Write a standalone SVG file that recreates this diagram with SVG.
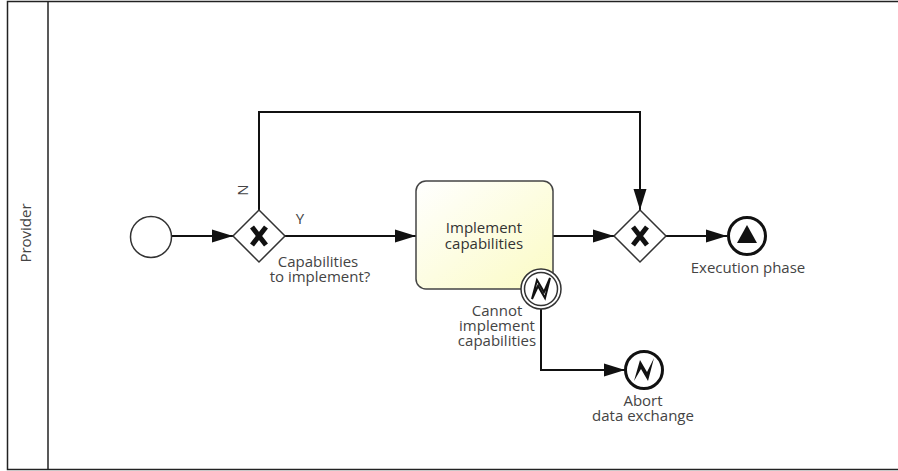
<svg xmlns="http://www.w3.org/2000/svg" width="898" height="471" viewBox="0 0 898 471">
  <style>
    .lbl { font-family: "Open Sans", "Noto Sans", sans-serif; font-size: 15px; fill: #444; text-anchor: middle; }
    .tlbl { font-family: "Open Sans", "Noto Sans", sans-serif; font-size: 15px; fill: #333; text-anchor: middle; }
    .flow { fill: none; stroke: #111; stroke-width: 2; }
    .gw { fill: #fff; stroke: #333; stroke-width: 1.5; }
    .pool { fill: #fff; stroke: #222; stroke-width: 1.5; }
  </style>
  <defs>
    <linearGradient id="taskFill" x1="0" y1="0" x2="1" y2="1">
      <stop offset="0" stop-color="#ffffff"/>
      <stop offset="1" stop-color="#fbfbc4"/>
    </linearGradient>
    <marker id="arrow" markerUnits="userSpaceOnUse" markerWidth="22" markerHeight="14" refX="21" refY="7" orient="auto">
      <path d="M0,0.5 L21,7 L0,13.5 z" fill="#111"/>
    </marker>
    <path id="gwX" d="M-7,-9 L7,9 M7,-9 L-7,9" stroke="#111" stroke-width="5" fill="none"/>
  </defs>

  <!-- pool with lane header -->
  <g id="pool">
    <rect class="pool" x="7.5" y="1.5" width="900" height="468"/>
    <line x1="48" y1="1.5" x2="48" y2="469.5" stroke="#222" stroke-width="1.5"/>
    <text class="lbl" transform="translate(31,233) rotate(-90)">Provider</text>
  </g>

  <!-- sequence flows -->
  <g id="connectors">
    <line class="flow" x1="172" y1="236" x2="233" y2="236" marker-end="url(#arrow)"/>
    <line class="flow" x1="285" y1="236" x2="416" y2="236" marker-end="url(#arrow)"/>
    <line class="flow" x1="553" y1="236" x2="614" y2="236" marker-end="url(#arrow)"/>
    <line class="flow" x1="666" y1="236" x2="727" y2="236" marker-end="url(#arrow)"/>
    <polyline class="flow" points="259,210 259,112 640,112 640,210" marker-end="url(#arrow)"/>
    <polyline class="flow" points="541,309 541,370 625,370" marker-end="url(#arrow)"/>
    <text class="lbl" transform="translate(248,190) rotate(-90)">N</text>
    <text class="lbl" x="300" y="224">Y</text>
  </g>

  <g id="start">
    <circle cx="151" cy="237" r="20.5" fill="#fff" stroke="#333" stroke-width="1.5"/>
  </g>

  <g id="gateway1">
    <path class="gw" d="M259,210 L285,236 L259,262 L233,236 z"/>
    <use href="#gwX" x="259" y="236"/>
    <text class="lbl" x="318" y="267">Capabilities</text>
    <text class="lbl" x="320" y="282">to implement?</text>
  </g>

  <g id="task">
    <rect x="416" y="181" width="137" height="108" rx="10" fill="url(#taskFill)" stroke="#444" stroke-width="1.5"/>
    <text class="tlbl" x="484" y="233">Implement</text>
    <text class="tlbl" x="484" y="249">capabilities</text>
  </g>

  <g id="errorBoundary">
    <circle cx="541" cy="289" r="20" fill="#fff" stroke="#333" stroke-width="1.5"/>
    <circle cx="541" cy="289" r="16.5" fill="#fff" stroke="#333" stroke-width="1.5"/>
    <path d="M532,299 L537,280 L544,292 L550,278 L545,298 L538,286 z" fill="#fff" stroke="#111" stroke-width="2" stroke-linejoin="miter"/>
    <text class="lbl" x="497" y="316">Cannot</text>
    <text class="lbl" x="497" y="331">implement</text>
    <text class="lbl" x="497" y="346">capabilities</text>
  </g>

  <g id="gateway2">
    <path class="gw" d="M640,210 L666,236 L640,262 L614,236 z"/>
    <use href="#gwX" x="640" y="236"/>
  </g>

  <g id="endExecution">
    <circle cx="747" cy="236" r="18.5" fill="#fff" stroke="#111" stroke-width="3"/>
    <path d="M747,225 L757,243 L737,243 z" fill="#111"/>
    <text class="lbl" x="748" y="273">Execution phase</text>
  </g>

  <g id="endAbort">
    <circle cx="644" cy="370" r="18.5" fill="#fff" stroke="#111" stroke-width="3"/>
    <path d="M634,381 L640,360 L647,372 L654,358 L648,381 L641,369 z" fill="#111"/>
    <text class="lbl" x="643" y="406">Abort</text>
    <text class="lbl" x="643" y="421">data exchange</text>
  </g>
</svg>
